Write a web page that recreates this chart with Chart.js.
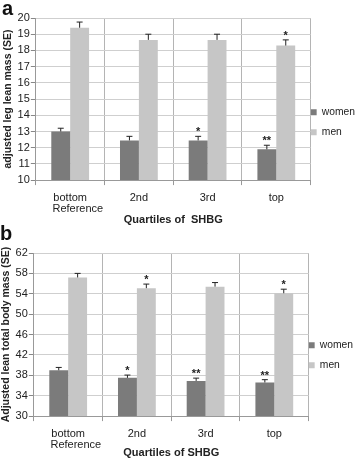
<!DOCTYPE html>
<html>
<head>
<meta charset="utf-8">
<script src="https://cdn.jsdelivr.net/npm/chart.js@4"></script>
<style>
  html, body { margin: 0; padding: 0; background: #fff; }
  .panel { position: absolute; left: 0; width: 355px; }
</style>
</head>
<body>
<div class="panel" style="top:0;height:225px"><canvas id="chartA" width="355" height="225"></canvas></div>
<div class="panel" style="top:225px;height:233px"><canvas id="chartB" width="355" height="233"></canvas></div>
<script>
// categories (quartiles of SHBG)
const quartiles = [['bottom', '\u00a0\u00a0\u00a0\u00a0\u00a0Reference'], '2nd', '3rd', 'top'];

// panel a: adjusted leg lean mass
const legWomen = [13.0, 12.45, 12.45, 11.9];
const legWomenSE = [0.2, 0.25, 0.25, 0.25];
const legMen = [19.4, 18.65, 18.65, 18.3];
const legMenSE = [0.35, 0.35, 0.35, 0.35];
const legWomenSig = ['', '', '*', '**'];
const legMenSig = ['', '', '', '*'];

// panel b: adjusted lean total body mass
const totalWomen = [39.0, 37.5, 36.9, 36.6];
const totalWomenSE = [0.55, 0.55, 0.55, 0.55];
const totalMen = [57.2, 55.1, 55.4, 54.1];
const totalMenSE = [0.8, 0.8, 0.8, 0.8];
const totalWomenSig = ['', '*', '**', '**'];
const totalMenSig = ['', '*', '', '*'];

const WOMEN_COLOR = '#7b7b7b';
const MEN_COLOR = '#c6c6c6';
const FONT = 'Liberation Sans, Arial, sans-serif';

// draws upward error bars and significance stars above bars
const errorBarPlugin = {
    id: 'errorBars',
    afterDatasetsDraw(chart) {
        const ctx = chart.ctx;
        const yScale = chart.scales.y;
        chart.data.datasets.forEach((ds, i) => {
            const meta = chart.getDatasetMeta(i);
            meta.data.forEach((bar, j) => {
                const top = yScale.getPixelForValue(ds.data[j] + ds.se[j]);
                ctx.save();
                ctx.strokeStyle = '#222';
                ctx.lineWidth = 1;
                ctx.beginPath();
                ctx.moveTo(bar.x, bar.y);
                ctx.lineTo(bar.x, top);
                ctx.moveTo(bar.x - 3, top);
                ctx.lineTo(bar.x + 3, top);
                ctx.stroke();
                if (ds.sig[j]) {
                    ctx.fillStyle = '#222';
                    ctx.font = 'bold 11px ' + FONT;
                    ctx.textAlign = 'center';
                    ctx.textBaseline = 'alphabetic';
                    ctx.fillText(ds.sig[j], bar.x, top - 1);
                }
                ctx.restore();
            });
        });
    }
};

function makeChart(id, cfg) {
    const ctx = document.getElementById(id).getContext('2d');
    return new Chart(ctx, {
        type: 'bar',
        data: {
            labels: quartiles,
            datasets: [
                // label as a one-line array so the legend row height follows lineHeight
                { label: ['women'], data: cfg.women, se: cfg.womenSE, sig: cfg.womenSig, backgroundColor: WOMEN_COLOR },
                { label: ['men'], data: cfg.men, se: cfg.menSE, sig: cfg.menSig, backgroundColor: MEN_COLOR }
            ]
        },
        options: {
            responsive: false,
            animation: false,
            layout: { padding: { left: cfg.padLeft, right: cfg.padRight, top: 0, bottom: 0 } },
            datasets: { bar: { categoryPercentage: 0.55, barPercentage: 1.0 } },
            plugins: {
                title: {
                    display: true, text: cfg.letter, align: 'start', color: '#111',
                    font: { family: FONT, size: 20, weight: 'bold', lineHeight: 0.9 },
                    padding: { top: 0, bottom: cfg.titlePad }
                },
                legend: {
                    position: 'right',
                    labels: {
                        boxWidth: 6, boxHeight: 6, padding: 0, color: '#222',
                        font: { family: FONT, size: 10.3, lineHeight: 1.95 }
                    },
                    title: { display: true, text: ' ', padding: { top: cfg.legendShift, bottom: cfg.legendShift }, font: { size: 11 } }
                },
                tooltip: { enabled: false }
            },
            scales: {
                x: {
                    grid: { offset: true, color: '#b4b4b4', tickLength: 5, tickColor: '#999' },
                    border: { color: '#999' },
                    ticks: { autoSkip: false, color: '#222', font: { family: FONT, size: 11, lineHeight: 0.95 }, padding: 8, maxRotation: 0 },
                    title: { display: true, text: cfg.xTitle, color: '#222', font: { family: FONT, size: 11, weight: 'bold', lineHeight: 1.0 }, padding: { top: cfg.xTitlePad, bottom: 0 } }
                },
                y: {
                    min: cfg.yMin, max: cfg.yMax,
                    grid: { color: '#cfcfcf', tickLength: 5, tickColor: '#888' },
                    border: { color: '#999' },
                    ticks: { autoSkip: false, stepSize: cfg.yStep, color: '#222', font: { family: FONT, size: 11 }, padding: 1 },
                    title: { display: true, text: cfg.yTitle, color: '#222', font: { family: FONT, size: 10.5, weight: 'bold' }, padding: { top: 0, bottom: 2 } }
                }
            }
        },
        plugins: [errorBarPlugin]
    });
}

makeChart('chartA', {
    letter: 'a', yTitle: 'adjusted leg lean mass (SE)', xTitle: 'Quartiles of  SHBG',
    women: legWomen, womenSE: legWomenSE, womenSig: legWomenSig,
    men: legMen, menSE: legMenSE, menSig: legMenSig,
    yMin: 10, yMax: 20, yStep: 1, titlePad: 0, legendShift: 8, padLeft: 2, padRight: -10, xTitlePad: -8
});
makeChart('chartB', {
    letter: 'b', yTitle: 'Adjusted lean total body mass (SE)', xTitle: 'Quartiles of SHBG',
    women: totalWomen, womenSE: totalWomenSE, womenSig: totalWomenSig,
    men: totalMen, menSE: totalMenSE, menSig: totalMenSig,
    yMin: 30, yMax: 62, yStep: 4, titlePad: 10, legendShift: 12, padLeft: 0, padRight: -8, xTitlePad: -11
});
</script>
</body>
</html>
